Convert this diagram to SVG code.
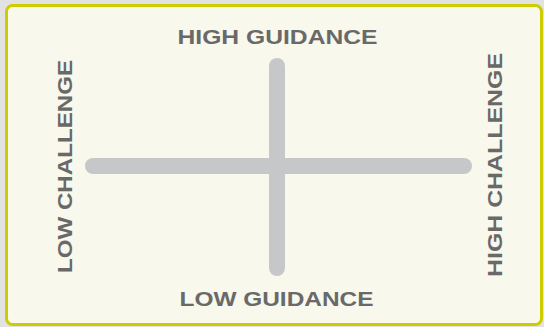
<svg xmlns="http://www.w3.org/2000/svg" width="544" height="327" viewBox="0 0 544 327">
<style>
.lbl{font-family:"Liberation Sans",Arial,sans-serif;font-weight:bold;font-size:20px;fill:#696969;text-anchor:middle}
.bar{stroke:#c5c7c9;stroke-width:16;stroke-linecap:round;fill:none}
</style>
<rect x="0" y="0" width="544" height="327" fill="#e2e2e2"/>
<rect x="6.5" y="5.5" width="535" height="319" rx="6" fill="#f8f8ec" stroke="#cccc00" stroke-width="3"/>
<g id="connectors">
<line class="bar" x1="93" y1="166" x2="464" y2="166"/>
<line class="bar" x1="277" y1="66" x2="277" y2="268"/>
</g>
<g id="high-guidance"><text class="lbl" x="277.5" y="43.5" textLength="200" lengthAdjust="spacingAndGlyphs">HIGH GUIDANCE</text></g>
<g id="low-guidance"><text class="lbl" x="276.5" y="305.5" textLength="194" lengthAdjust="spacingAndGlyphs">LOW GUIDANCE</text></g>
<g id="low-challenge"><text class="lbl" transform="translate(72,166.5) rotate(-90)" x="0" y="0" textLength="213" lengthAdjust="spacingAndGlyphs">LOW CHALLENGE</text></g>
<g id="high-challenge"><text class="lbl" transform="translate(502,165) rotate(-90)" x="0" y="0" textLength="224" lengthAdjust="spacingAndGlyphs">HIGH CHALLENGE</text></g>
</svg>
